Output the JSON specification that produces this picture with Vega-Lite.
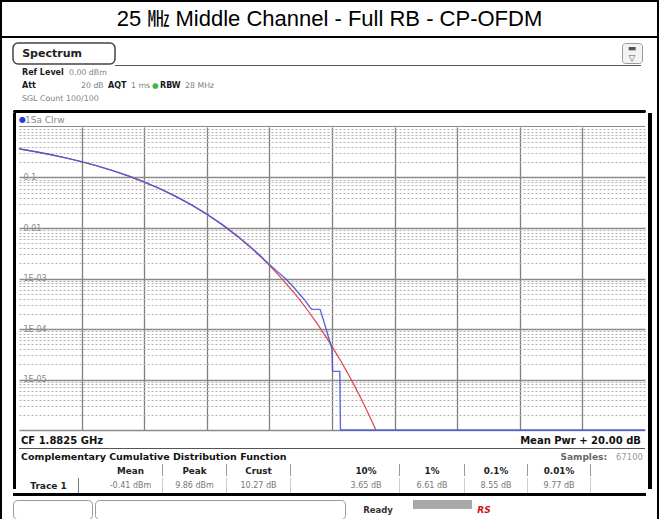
{
 "$schema": "https://vega.github.io/schema/vega-lite/v6.json",
 "background": "white",
 "padding": 0,
 "spacing": 0,
 "config": {"view": {"stroke": null}, "concat": {"spacing": 0}, "text": {"font": "DejaVu Sans"}},
 "datasets": {
  "ref": [{"db":0,"p":0.368},{"db":0.5,"p":0.3256},{"db":1,"p":0.284},{"db":1.5,"p":0.2435},{"db":2,"p":0.205},{"db":2.5,"p":0.1689},{"db":3,"p":0.136},{"db":3.5,"p":0.1066},{"db":4,"p":0.0811},{"db":4.5,"p":0.0597},{"db":5,"p":0.0423},{"db":5.5,"p":0.0288},{"db":6,"p":0.01867},{"db":6.5,"p":0.01148},{"db":7,"p":0.00666},{"db":7.5,"p":0.00361},{"db":7.75,"p":0.00259},{"db":8,"p":0.00182},{"db":8.25,"p":0.00125},{"db":8.5,"p":0.000842},{"db":8.75,"p":0.000553},{"db":9,"p":0.000355},{"db":9.25,"p":0.000222},{"db":9.5,"p":0.000135},{"db":9.75,"p":0.0000794},{"db":10,"p":0.0000454},{"db":10.25,"p":0.0000251},{"db":10.5,"p":0.0000134},{"db":10.75,"p":0.0000069},{"db":11,"p":0.00000341},{"db":11.2,"p":0.00000188},{"db":11.4,"p":0.00000101}],
  "meas": [{"db":0,"p":0.37},{"db":0.5,"p":0.327},{"db":1,"p":0.286},{"db":1.5,"p":0.245},{"db":2,"p":0.206},{"db":2.5,"p":0.17},{"db":3,"p":0.137},{"db":3.5,"p":0.1075},{"db":4,"p":0.0818},{"db":4.5,"p":0.0602},{"db":5,"p":0.0427},{"db":5.5,"p":0.0291},{"db":6,"p":0.0189},{"db":6.5,"p":0.01165},{"db":7,"p":0.00678},{"db":7.5,"p":0.0037},{"db":7.75,"p":0.00267},{"db":8,"p":0.0019},{"db":8.25,"p":0.00137},{"db":8.5,"p":0.00101},{"db":8.75,"p":0.0007},{"db":9,"p":0.00046},{"db":9.15,"p":0.00036},{"db":9.3,"p":0.000265},{"db":9.36,"p":0.000245},{"db":9.62,"p":0.000245},{"db":9.75,"p":0.000135},{"db":9.9,"p":0.000065},{"db":9.98,"p":0.000045},{"db":10,"p":0.000035},{"db":10.02,"p":0.0000145},{"db":10.25,"p":0.0000145},{"db":10.27,"p":0.000001},{"db":20,"p":0.000001}]
 },
 "hconcat": [
  {"width": 2, "height": 519, "data": {"values": []}, "mark": "point", "view": {"fill": "black"}},
  {"spacing": 0, "vconcat": [
   {"width": 655, "height": 2, "data": {"values": []}, "mark": "point", "view": {"fill": "black"}},
   {"width": 655, "height": 34, "data": {"values": [{"t": "25 ㎒ Middle Channel - Full RB - CP-OFDM"}]}, "mark": {"type": "text", "font": "Liberation Sans, Noto Sans CJK KR", "fontSize": 22, "color": "black", "baseline": "middle"}, "encoding": {"text": {"field": "t", "type": "nominal"}}},
   {"width": 655, "height": 2, "data": {"values": []}, "mark": "point", "view": {"fill": "black"}},
   {"width": 655, "height": 4, "data": {"values": []}, "mark": "point"},
   {"spacing": 0, "bounds": "flush", "hconcat": [
     {"width": 11, "height": 22, "data": {"values": []}, "mark": "point"},
     {"width": 102, "height": 21, "data": {"values": [{"t": "Spectrum"}]}, "mark": {"type": "text", "align": "left", "baseline": "middle", "fontSize": 11, "fontWeight": "bold", "color": "#222"}, "encoding": {"text": {"field": "t", "type": "nominal"}, "x": {"field": "t", "type": "nominal", "scale": {"type": "point", "align": 0.09}, "axis": null}}, "view": {"stroke": "#444", "strokeWidth": 1.5, "cornerRadius": 5, "fill": "white"}},
     {"width": 507, "height": 22, "data": {"values": []}, "mark": "point"},
     {"width": 20, "height": 20, "data": {"values": [{"r": "a", "t": "▬"}, {"r": "b", "t": "▽"}]}, "mark": {"type": "text", "fontSize": 9, "color": "#555", "baseline": "middle"}, "encoding": {"text": {"field": "t", "type": "nominal"}, "y": {"field": "r", "type": "nominal", "axis": null}}, "view": {"stroke": "#999", "cornerRadius": 3, "fill": "#f3f3f3"}},
     {"width": 15, "height": 22, "data": {"values": []}, "mark": "point"}
   ]},
   {"spacing": 0, "bounds": "flush", "hconcat": [
     {"width": 113, "height": 1, "data": {"values": []}, "mark": "point"},
     {"width": 526, "height": 1, "data": {"values": []}, "mark": "point", "view": {"fill": "#555"}}
   ]},
   {"spacing": 0, "bounds": "flush", "hconcat": [
     {"width": 20, "height": 13, "data": {"values": []}, "mark": "point"},
     {"width": 47, "height": 13, "data": {"values": [{"t": "Ref Level"}]}, "mark": {"type": "text", "align": "left", "baseline": "middle", "fontSize": 8, "fontWeight": "bold", "color": "#1a1a1a"}, "encoding": {"text": {"field": "t", "type": "nominal"}, "x": {"field": "t", "type": "nominal", "scale": {"type": "point", "align": 0}, "axis": null}}},
     {"width": 120, "height": 13, "data": {"values": [{"t": "0.00 dBm"}]}, "mark": {"type": "text", "align": "left", "baseline": "middle", "fontSize": 7.8, "color": "#808080"}, "encoding": {"text": {"field": "t", "type": "nominal"}, "x": {"field": "t", "type": "nominal", "scale": {"type": "point", "align": 0}, "axis": null}}}
   ]},
   {"spacing": 0, "bounds": "flush", "hconcat": [
     {"width": 20, "height": 13, "data": {"values": []}, "mark": "point"},
     {"width": 59, "height": 13, "data": {"values": [{"t": "Att"}]}, "mark": {"type": "text", "align": "left", "baseline": "middle", "fontSize": 8, "fontWeight": "bold", "color": "#1a1a1a"}, "encoding": {"text": {"field": "t", "type": "nominal"}, "x": {"field": "t", "type": "nominal", "scale": {"type": "point", "align": 0}, "axis": null}}},
     {"width": 27, "height": 13, "data": {"values": [{"t": "20 dB"}]}, "mark": {"type": "text", "align": "left", "baseline": "middle", "fontSize": 7.8, "color": "#808080"}, "encoding": {"text": {"field": "t", "type": "nominal"}, "x": {"field": "t", "type": "nominal", "scale": {"type": "point", "align": 0}, "axis": null}}},
     {"width": 23, "height": 13, "data": {"values": [{"t": "AQT"}]}, "mark": {"type": "text", "align": "left", "baseline": "middle", "fontSize": 8, "fontWeight": "bold", "color": "#1a1a1a"}, "encoding": {"text": {"field": "t", "type": "nominal"}, "x": {"field": "t", "type": "nominal", "scale": {"type": "point", "align": 0}, "axis": null}}},
     {"width": 21, "height": 13, "data": {"values": [{"t": "1 ms"}]}, "mark": {"type": "text", "align": "left", "baseline": "middle", "fontSize": 7.8, "color": "#808080"}, "encoding": {"text": {"field": "t", "type": "nominal"}, "x": {"field": "t", "type": "nominal", "scale": {"type": "point", "align": 0}, "axis": null}}},
     {"width": 8, "height": 13, "data": {"values": [{"t": "●"}]}, "mark": {"type": "text", "align": "left", "baseline": "middle", "fontSize": 7.5, "color": "#3cb44b"}, "encoding": {"text": {"field": "t", "type": "nominal"}, "x": {"field": "t", "type": "nominal", "scale": {"type": "point", "align": 0}, "axis": null}}},
     {"width": 25, "height": 13, "data": {"values": [{"t": "RBW"}]}, "mark": {"type": "text", "align": "left", "baseline": "middle", "fontSize": 8, "fontWeight": "bold", "color": "#1a1a1a"}, "encoding": {"text": {"field": "t", "type": "nominal"}, "x": {"field": "t", "type": "nominal", "scale": {"type": "point", "align": 0}, "axis": null}}},
     {"width": 60, "height": 13, "data": {"values": [{"t": "28 MHz"}]}, "mark": {"type": "text", "align": "left", "baseline": "middle", "fontSize": 7.8, "color": "#808080"}, "encoding": {"text": {"field": "t", "type": "nominal"}, "x": {"field": "t", "type": "nominal", "scale": {"type": "point", "align": 0}, "axis": null}}}
   ]},
   {"spacing": 0, "bounds": "flush", "hconcat": [
     {"width": 20, "height": 13, "data": {"values": []}, "mark": "point"},
     {"width": 150, "height": 13, "data": {"values": [{"t": "SGL Count 100/100"}]}, "mark": {"type": "text", "align": "left", "baseline": "middle", "fontSize": 7.9, "color": "#808080"}, "encoding": {"text": {"field": "t", "type": "nominal"}, "x": {"field": "t", "type": "nominal", "scale": {"type": "point", "align": 0}, "axis": null}}}
   ]},
   {"width": 655, "height": 5, "data": {"values": []}, "mark": "point"},
   {"spacing": 0, "bounds": "flush", "hconcat": [
     {"width": 11, "height": 3, "data": {"values": []}, "mark": "point"},
     {"width": 633, "height": 3, "data": {"values": []}, "mark": "point", "view": {"fill": "black", "cornerRadius": 1.5}}
   ]},
   {"spacing": 0, "hconcat": [
     {"width": 11, "height": 376, "data": {"values": []}, "mark": "point"},
     {"width": 3, "height": 376, "data": {"values": []}, "mark": "point", "view": {"fill": "black"}},
     {"spacing": 0, "vconcat": [
       {"spacing": 0, "bounds": "flush", "hconcat": [
         {"width": 6, "height": 13, "data": {"values": [{"t": "●"}]}, "mark": {"type": "text", "align": "left", "baseline": "middle", "fontSize": 8, "color": "#2b3bd6"}, "encoding": {"text": {"field": "t", "type": "nominal"}, "x": {"field": "t", "type": "nominal", "scale": {"type": "point", "align": 0}, "axis": null}}},
         {"width": 620, "height": 13, "data": {"values": [{"t": "1Sa Clrw"}]}, "mark": {"type": "text", "align": "left", "baseline": "middle", "fontSize": 9, "color": "#8a8a8a"}, "encoding": {"text": {"field": "t", "type": "nominal"}, "x": {"field": "t", "type": "nominal", "scale": {"type": "point", "align": 0}, "axis": null}}}
       ]},
       {"width": 626, "height": 1, "data": {"values": []}, "mark": "point", "view": {"fill": "#8a8a8a"}},
       {"width": 626, "height": 303,
        "layer": [
         {"data": {"name": "ref"}, "mark": {"type": "line", "color": "#e0434c", "strokeWidth": 1.2},
          "encoding": {
           "x": {"field": "db", "type": "quantitative", "scale": {"domain": [0, 20], "nice": false, "zero": false}, "axis": {"values": [2, 4, 6, 8, 10, 12, 14, 16, 18], "grid": true, "gridColor": "#7f7f7f", "gridWidth": 1.3, "domain": false, "ticks": false, "labels": false, "title": null}},
           "y": {"field": "p", "type": "quantitative", "scale": {"type": "log", "domain": [0.000001, 1], "nice": false}, "axis": {"orient": "left", "values": [0.000001, 0.00001, 0.0001, 0.001, 0.01, 0.1], "grid": true, "gridColor": "#8a8a8a", "gridWidth": 1.3, "domain": false, "ticks": false, "tickSize": 0, "labelPadding": -4, "labelAlign": "left", "labelBaseline": "middle", "labelFont": "DejaVu Sans", "labelFontSize": 8, "labelColor": "#8a8a8a", "labelOverlap": false, "labelExpr": "datum.value > 0.5 || datum.value < 0.000005 ? '' : datum.value > 0.05 ? '0.1' : datum.value > 0.005 ? '0.01' : datum.value > 0.0005 ? '1E-03' : datum.value > 0.00005 ? '1E-04' : '1E-05'", "title": null}}
          }},
         {"data": {"name": "meas"}, "mark": {"type": "line", "color": "#4a58d8", "strokeWidth": 1.4, "opacity": 0.9},
          "encoding": {
           "x": {"field": "db", "type": "quantitative", "axis": null},
           "y": {"field": "p", "type": "quantitative", "axis": {"orient": "left", "values": [0.000002,0.000003,0.000004,0.000005,0.000006,0.000007,0.000008,0.000009,0.00002,0.00003,0.00004,0.00005,0.00006,0.00007,0.00008,0.00009,0.0002,0.0003,0.0004,0.0005,0.0006,0.0007,0.0008,0.0009,0.002,0.003,0.004,0.005,0.006,0.007,0.008,0.009,0.02,0.03,0.04,0.05,0.06,0.07,0.08,0.09,0.2,0.3,0.4,0.5,0.6,0.7,0.8,0.9], "grid": true, "gridColor": "#b0b0b0", "gridWidth": 1, "gridDash": [2, 2], "domain": false, "ticks": false, "labels": false, "title": null}}
          }}
        ],
        "resolve": {"axis": {"y": "independent", "x": "independent"}}
       },
       {"spacing": 0, "bounds": "flush", "hconcat": [
         {"width": 2, "height": 14, "data": {"values": []}, "mark": "point"},
         {"width": 310, "height": 14, "data": {"values": [{"t": "CF 1.8825 GHz"}]}, "mark": {"type": "text", "align": "left", "baseline": "middle", "fontSize": 10, "fontWeight": "bold", "color": "#111"}, "encoding": {"text": {"field": "t", "type": "nominal"}, "x": {"field": "t", "type": "nominal", "scale": {"type": "point", "align": 0}, "axis": null}}},
         {"width": 310, "height": 14, "data": {"values": [{"t": "Mean Pwr + 20.00 dB"}]}, "mark": {"type": "text", "align": "right", "baseline": "middle", "fontSize": 10, "fontWeight": "bold", "color": "#111"}, "encoding": {"text": {"field": "t", "type": "nominal"}, "x": {"field": "t", "type": "nominal", "scale": {"type": "point", "align": 1}, "axis": null}}},
         {"width": 4, "height": 14, "data": {"values": []}, "mark": "point"}
       ]},
       {"width": 626, "height": 1, "data": {"values": []}, "mark": "point", "view": {"fill": "#555"}},
       {"spacing": 0, "bounds": "flush", "hconcat": [
         {"width": 2, "height": 15, "data": {"values": []}, "mark": "point"},
         {"width": 400, "height": 15, "data": {"values": [{"t": "Complementary Cumulative Distribution Function"}]}, "mark": {"type": "text", "align": "left", "baseline": "middle", "fontSize": 9.5, "fontWeight": "bold", "color": "#111"}, "encoding": {"text": {"field": "t", "type": "nominal"}, "x": {"field": "t", "type": "nominal", "scale": {"type": "point", "align": 0}, "axis": null}}},
         {"width": 186, "height": 15, "data": {"values": [{"t": "Samples:"}]}, "mark": {"type": "text", "align": "right", "baseline": "middle", "fontSize": 9, "fontWeight": "bold", "color": "#666"}, "encoding": {"text": {"field": "t", "type": "nominal"}, "x": {"field": "t", "type": "nominal", "scale": {"type": "point", "align": 1}, "axis": null}}},
         {"width": 36, "height": 15, "data": {"values": [{"t": "67100"}]}, "mark": {"type": "text", "align": "right", "baseline": "middle", "fontSize": 8.5, "color": "#999"}, "encoding": {"text": {"field": "t", "type": "nominal"}, "x": {"field": "t", "type": "nominal", "scale": {"type": "point", "align": 1}, "axis": null}}},
         {"width": 2, "height": 15, "data": {"values": []}, "mark": "point"}
       ]},
       {"spacing": 0, "bounds": "flush", "hconcat": [
         {"width": 80, "height": 14, "data": {"values": []}, "mark": "point"},
         {"width": 63, "height": 14, "data": {"values": [{"t": "Mean"}]}, "mark": {"type": "text", "baseline": "middle", "fontSize": 8.8, "fontWeight": "bold", "color": "#222"}, "encoding": {"text": {"field": "t", "type": "nominal"}}},
         {"width": 1, "height": 12, "data": {"values": []}, "mark": "point", "view": {"fill": "#999"}},
         {"width": 63, "height": 14, "data": {"values": [{"t": "Peak"}]}, "mark": {"type": "text", "baseline": "middle", "fontSize": 8.8, "fontWeight": "bold", "color": "#222"}, "encoding": {"text": {"field": "t", "type": "nominal"}}},
         {"width": 1, "height": 12, "data": {"values": []}, "mark": "point", "view": {"fill": "#999"}},
         {"width": 63, "height": 14, "data": {"values": [{"t": "Crust"}]}, "mark": {"type": "text", "baseline": "middle", "fontSize": 8.8, "fontWeight": "bold", "color": "#222"}, "encoding": {"text": {"field": "t", "type": "nominal"}}},
         {"width": 1, "height": 12, "data": {"values": []}, "mark": "point", "view": {"fill": "#999"}},
         {"width": 42, "height": 14, "data": {"values": []}, "mark": "point"},
         {"width": 66, "height": 14, "data": {"values": [{"t": "10%"}]}, "mark": {"type": "text", "baseline": "middle", "fontSize": 8.8, "fontWeight": "bold", "color": "#222"}, "encoding": {"text": {"field": "t", "type": "nominal"}}},
         {"width": 1, "height": 12, "data": {"values": []}, "mark": "point", "view": {"fill": "#999"}},
         {"width": 64, "height": 14, "data": {"values": [{"t": "1%"}]}, "mark": {"type": "text", "baseline": "middle", "fontSize": 8.8, "fontWeight": "bold", "color": "#222"}, "encoding": {"text": {"field": "t", "type": "nominal"}}},
         {"width": 1, "height": 12, "data": {"values": []}, "mark": "point", "view": {"fill": "#999"}},
         {"width": 62, "height": 14, "data": {"values": [{"t": "0.1%"}]}, "mark": {"type": "text", "baseline": "middle", "fontSize": 8.8, "fontWeight": "bold", "color": "#222"}, "encoding": {"text": {"field": "t", "type": "nominal"}}},
         {"width": 1, "height": 12, "data": {"values": []}, "mark": "point", "view": {"fill": "#999"}},
         {"width": 62, "height": 14, "data": {"values": [{"t": "0.01%"}]}, "mark": {"type": "text", "baseline": "middle", "fontSize": 8.8, "fontWeight": "bold", "color": "#222"}, "encoding": {"text": {"field": "t", "type": "nominal"}}},
         {"width": 1, "height": 12, "data": {"values": []}, "mark": "point", "view": {"fill": "#999"}}
       ]},
       {"spacing": 0, "bounds": "flush", "hconcat": [
         {"width": 59, "height": 15, "data": {"values": [{"t": "Trace 1"}]}, "mark": {"type": "text", "baseline": "middle", "fontSize": 9, "fontWeight": "bold", "color": "#222"}, "encoding": {"text": {"field": "t", "type": "nominal"}}},
         {"width": 1, "height": 15, "data": {"values": []}, "mark": "point", "view": {"fill": "#777"}},
         {"width": 20, "height": 15, "data": {"values": []}, "mark": "point"},
         {"width": 63, "height": 15, "data": {"values": [{"t": "-0.41 dBm"}]}, "mark": {"type": "text", "baseline": "middle", "fontSize": 8, "color": "#777"}, "encoding": {"text": {"field": "t", "type": "nominal"}}},
         {"width": 1, "height": 15, "data": {"values": []}, "mark": "point", "view": {"fill": "#ccc"}},
         {"width": 63, "height": 15, "data": {"values": [{"t": "9.86 dBm"}]}, "mark": {"type": "text", "baseline": "middle", "fontSize": 8, "color": "#777"}, "encoding": {"text": {"field": "t", "type": "nominal"}}},
         {"width": 1, "height": 15, "data": {"values": []}, "mark": "point", "view": {"fill": "#ccc"}},
         {"width": 63, "height": 15, "data": {"values": [{"t": "10.27 dB"}]}, "mark": {"type": "text", "baseline": "middle", "fontSize": 8, "color": "#777"}, "encoding": {"text": {"field": "t", "type": "nominal"}}},
         {"width": 1, "height": 15, "data": {"values": []}, "mark": "point", "view": {"fill": "#ccc"}},
         {"width": 42, "height": 15, "data": {"values": []}, "mark": "point"},
         {"width": 66, "height": 15, "data": {"values": [{"t": "3.65 dB"}]}, "mark": {"type": "text", "baseline": "middle", "fontSize": 8, "color": "#777"}, "encoding": {"text": {"field": "t", "type": "nominal"}}},
         {"width": 1, "height": 15, "data": {"values": []}, "mark": "point", "view": {"fill": "#ccc"}},
         {"width": 64, "height": 15, "data": {"values": [{"t": "6.61 dB"}]}, "mark": {"type": "text", "baseline": "middle", "fontSize": 8, "color": "#777"}, "encoding": {"text": {"field": "t", "type": "nominal"}}},
         {"width": 1, "height": 15, "data": {"values": []}, "mark": "point", "view": {"fill": "#ccc"}},
         {"width": 62, "height": 15, "data": {"values": [{"t": "8.55 dB"}]}, "mark": {"type": "text", "baseline": "middle", "fontSize": 8, "color": "#777"}, "encoding": {"text": {"field": "t", "type": "nominal"}}},
         {"width": 1, "height": 15, "data": {"values": []}, "mark": "point", "view": {"fill": "#ccc"}},
         {"width": 62, "height": 15, "data": {"values": [{"t": "9.77 dB"}]}, "mark": {"type": "text", "baseline": "middle", "fontSize": 8, "color": "#777"}, "encoding": {"text": {"field": "t", "type": "nominal"}}},
         {"width": 1, "height": 15, "data": {"values": []}, "mark": "point", "view": {"fill": "#ccc"}}
       ]}
     ]},
     {"width": 4, "height": 376, "data": {"values": []}, "mark": "point", "view": {"fill": "black"}}
   ]},
   {"spacing": 0, "bounds": "flush", "hconcat": [
     {"width": 11, "height": 3, "data": {"values": []}, "mark": "point"},
     {"width": 633, "height": 3, "data": {"values": []}, "mark": "point", "view": {"fill": "black"}}
   ]},
   {"spacing": 0, "vconcat": [
     {"width": 655, "height": 3, "data": {"values": []}, "mark": "point"},
     {"spacing": 0, "bounds": "flush", "hconcat": [
       {"width": 11, "height": 19, "data": {"values": []}, "mark": "point"},
       {"width": 79, "height": 19, "data": {"values": []}, "mark": "point", "view": {"stroke": "#999", "strokeWidth": 1, "cornerRadius": 4, "fill": "white"}},
       {"width": 3, "height": 19, "data": {"values": []}, "mark": "point"},
       {"width": 250, "height": 19, "data": {"values": []}, "mark": "point", "view": {"stroke": "#999", "strokeWidth": 1, "cornerRadius": 4, "fill": "white"}},
       {"width": 13, "height": 19, "data": {"values": []}, "mark": "point"},
       {"width": 40, "height": 19, "data": {"values": [{"t": "Ready"}]}, "mark": {"type": "text", "baseline": "middle", "fontSize": 8.5, "fontWeight": "bold", "color": "#333"}, "encoding": {"text": {"field": "t", "type": "nominal"}}},
       {"width": 15, "height": 19, "data": {"values": []}, "mark": "point"},
       {"width": 59, "height": 9, "data": {"values": []}, "mark": "point", "view": {"fill": "#a8a8a8"}},
       {"width": 4, "height": 19, "data": {"values": []}, "mark": "point"},
       {"width": 16, "height": 19, "data": {"values": [{"t": "RS"}]}, "mark": {"type": "text", "baseline": "middle", "fontSize": 9, "fontWeight": "bold", "fontStyle": "italic", "color": "#cc1111"}, "encoding": {"text": {"field": "t", "type": "nominal"}}}
     ]},
     {"width": 655, "height": 6, "data": {"values": []}, "mark": "point"}
   ]}
  ]},
  {"width": 2, "height": 519, "data": {"values": []}, "mark": "point", "view": {"fill": "black"}}
 ]
}
